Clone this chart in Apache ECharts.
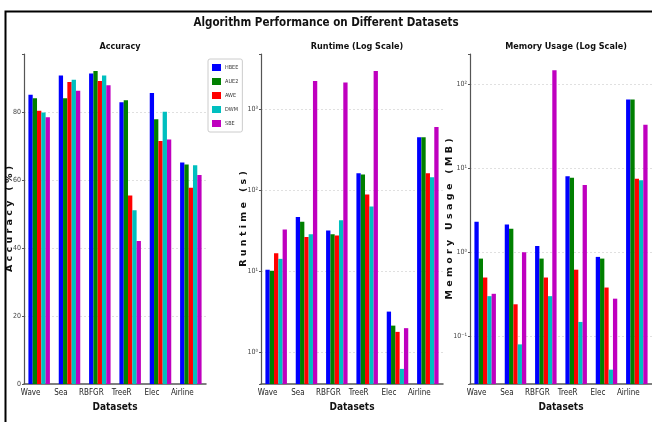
<!DOCTYPE html>
<html><head><meta charset="utf-8">
<script src="https://cdn.jsdelivr.net/npm/echarts@6/dist/echarts.min.js"></script>
<style>html,body{margin:0;padding:0;background:#fff}#c{width:652px;height:422px}</style>
</head><body><div id="c"></div>
<script>
// ---------- data ----------
const categories = ['Wave', 'Sea', 'RBFGR', 'TreeR', 'Elec', 'Airline'];
const algorithms = ['HBEE', 'AUE2', 'AWE', 'DWM', 'SBE'];

const accHBEE = [85.0, 90.7, 91.3, 82.8, 85.5, 65.1];
const accAUE2 = [84.0, 84.0, 92.0, 83.4, 77.8, 64.5];
const accAWE  = [80.3, 88.8, 89.1, 55.4, 71.4, 57.7];
const accDWM  = [79.8, 89.4, 90.7, 51.1, 80.0, 64.3];
const accSBE  = [78.4, 86.2, 87.8, 42.0, 71.9, 61.4];

const rtHBEE = [10.5, 47, 32, 162, 3.2, 450];
const rtAUE2 = [10.2, 41, 28.8, 157, 2.15, 450];
const rtAWE  = [16.8, 26.5, 27.7, 89, 1.8, 162];
const rtDWM  = [14.3, 28.8, 42.8, 63, 0.63, 145];
const rtSBE  = [33, 2230, 2130, 2960, 2.0, 605];

const memHBEE = [2.3, 2.14, 1.19, 8.0, 0.88, 66];
const memAUE2 = [0.84, 1.9, 0.84, 7.7, 0.84, 66];
const memAWE  = [0.50, 0.24, 0.50, 0.62, 0.38, 7.5];
const memDWM  = [0.30, 0.080, 0.30, 0.148, 0.040, 7.2];
const memSBE  = [0.32, 1.0, 147, 6.3, 0.28, 33];

const accTicks = [0, 20, 40, 60, 80];

// ---------- styling ----------
const colors = ['#0000ff', '#008000', '#ff0000', '#00bfbf', '#bf00bf'];
const condensed = '"DejaVu Sans Condensed", "Liberation Sans Narrow", sans-serif';
const wide = '"DejaVu Sans", sans-serif';
const BAR_W = 4.3;

const accData = [accHBEE, accAUE2, accAWE, accDWM, accSBE];
const rtData = [rtHBEE, rtAUE2, rtAWE, rtDWM, rtSBE];
const memData = [memHBEE, memAUE2, memAWE, memDWM, memSBE];

const sup = {'-':'\u207b','0':'\u2070','1':'\u00b9','2':'\u00b2','3':'\u00b3','4':'\u2074','5':'\u2075','6':'\u2076','7':'\u2077','8':'\u2078','9':'\u2079'};
function logLabel(v) {
  const l = Math.log10(v);
  const r = Math.round(l);
  if (Math.abs(l - r) > 1e-6) return '';
  return '10' + String(r).split('').map(ch => sup[ch]).join('');
}

function spaced(s) { return s.split('').join(' '); }

const grids = [
  {left: 24, top: 54, width: 182, height: 330},
  {left: 261, top: 54, width: 182, height: 330},
  {left: 470, top: 54, width: 182, height: 330}
];

const xAxes = grids.map((g, i) => ({
  type: 'category', gridIndex: i, data: categories,
  axisLine: {lineStyle: {color: '#555', width: 1.5}},
  axisTick: {show: false},
  axisLabel: {interval: 0, hideOverlap: false, fontFamily: condensed, fontSize: 8, color: '#222', margin: 5, padding: [0, 17, 0, 0]},
  name: 'Datasets', nameLocation: 'middle', nameGap: 18, nameMoveOverlap: false,
  nameTextStyle: {fontFamily: condensed, fontWeight: 'bold', fontSize: 10, color: '#111'}
}));

const gc = '#d8d8d8';
const gridLine = {show: true, lineStyle: {color: ['transparent', gc, gc, gc, gc, 'transparent'], type: [2, 2], width: 0.8}};
const yBase = {
  axisLine: {show: true, lineStyle: {color: '#555', width: 1.2}},
  axisTick: {show: true, length: 2, lineStyle: {color: '#555'}},
  nameLocation: 'middle', nameMoveOverlap: false,
  nameTextStyle: {fontFamily: wide, fontWeight: 'bold', fontSize: 9.5, color: '#111'},
};
const yAxes = [
  Object.assign({}, yBase, {
    type: 'value', gridIndex: 0, min: 0, max: 97, interval: 20,
    splitLine: gridLine,
    axisLabel: {fontFamily: condensed, fontSize: 7, color: '#444', margin: 3,
      formatter: v => accTicks.indexOf(v) >= 0 ? String(v) : ''},
    name: spaced('Accuracy') + '   ' + spaced('(%)'), nameGap: 9
  }),
  Object.assign({}, yBase, {
    type: 'log', gridIndex: 1, min: 0.41, max: 4790, logBase: 10,
    splitLine: gridLine,
    axisLabel: {fontFamily: condensed, fontSize: 7, color: '#444', margin: 3, formatter: logLabel},
    name: spaced('Runtime') + '   ' + spaced('(s)'), nameGap: 12
  }),
  Object.assign({}, yBase, {
    type: 'log', gridIndex: 2, min: 0.027, max: 229, logBase: 10,
    splitLine: gridLine,
    axisLabel: {fontFamily: condensed, fontSize: 7, color: '#444', margin: 3, formatter: logLabel},
    name: spaced('Memory') + '   ' + spaced('Usage') + '   ' + spaced('(MB)'), nameGap: 15
  })
];

function barRender(k, n) {
  return function (params, api) {
    const cat = api.value(0);
    const v = api.value(1);
    const topPt = api.coord([cat, v]);
    const cs = params.coordSys;
    const bottom = cs.y + cs.height;
    const x = topPt[0] + (k - (n - 1) / 2) * BAR_W - BAR_W / 2;
    return {
      type: 'rect',
      shape: {x: x, y: topPt[1], width: BAR_W, height: bottom - topPt[1]},
      style: {fill: colors[k]}
    };
  };
}

const series = [];
[accData, rtData, memData].forEach((panel, p) => {
  panel.forEach((vals, k) => {
    series.push({
      type: 'custom', name: algorithms[k],
      xAxisIndex: p, yAxisIndex: p,
      itemStyle: {color: colors[k]},
      renderItem: barRender(k, algorithms.length),
      encode: {x: 0, y: 1},
      data: vals.map((v, i) => [i, v]),
      clip: true
    });
  });
});

const chart = echarts.init(document.getElementById('c'), null, {renderer: 'canvas'});
chart.setOption({
  animation: false,
  backgroundColor: '#fff',
  title: [
    {text: 'Algorithm Performance on Different Datasets', left: 'center', top: 12,
      textStyle: {fontFamily: condensed, fontWeight: 'bold', fontSize: 11.5, color: '#111'}},
    {text: 'Accuracy', left: 115, top: 37, textAlign: 'center',
      textStyle: {fontFamily: condensed, fontWeight: 'bold', fontSize: 9, color: '#111'}},
    {text: 'Runtime (Log Scale)', left: 352, top: 37, textAlign: 'center',
      textStyle: {fontFamily: condensed, fontWeight: 'bold', fontSize: 9, color: '#111'}},
    {text: 'Memory Usage (Log Scale)', left: 561, top: 37, textAlign: 'center',
      textStyle: {fontFamily: condensed, fontWeight: 'bold', fontSize: 9, color: '#111'}}
  ],
  legend: {
    data: algorithms.map(a => ({name: a, icon: 'rect'})),
    orient: 'vertical', left: 208, top: 59,
    itemWidth: 9, itemHeight: 7, itemGap: 7,
    padding: [5, 4, 5, 4],
    borderColor: '#cccccc', borderWidth: 1, borderRadius: 2,
    backgroundColor: '#fff',
    textStyle: {fontFamily: condensed, fontSize: 5.5, color: '#333', padding: [0, 0, 0, -1]}
  },
  grid: grids,
  xAxis: xAxes,
  yAxis: yAxes,
  series: series,
  graphic: [
    {type: 'rect', left: 3, top: 9, z: 100, silent: true,
      shape: {x: 0, y: 0, width: 700, height: 500},
      style: {fill: 'none', stroke: '#000', lineWidth: 2}}
  ]
});
</script></body></html>
